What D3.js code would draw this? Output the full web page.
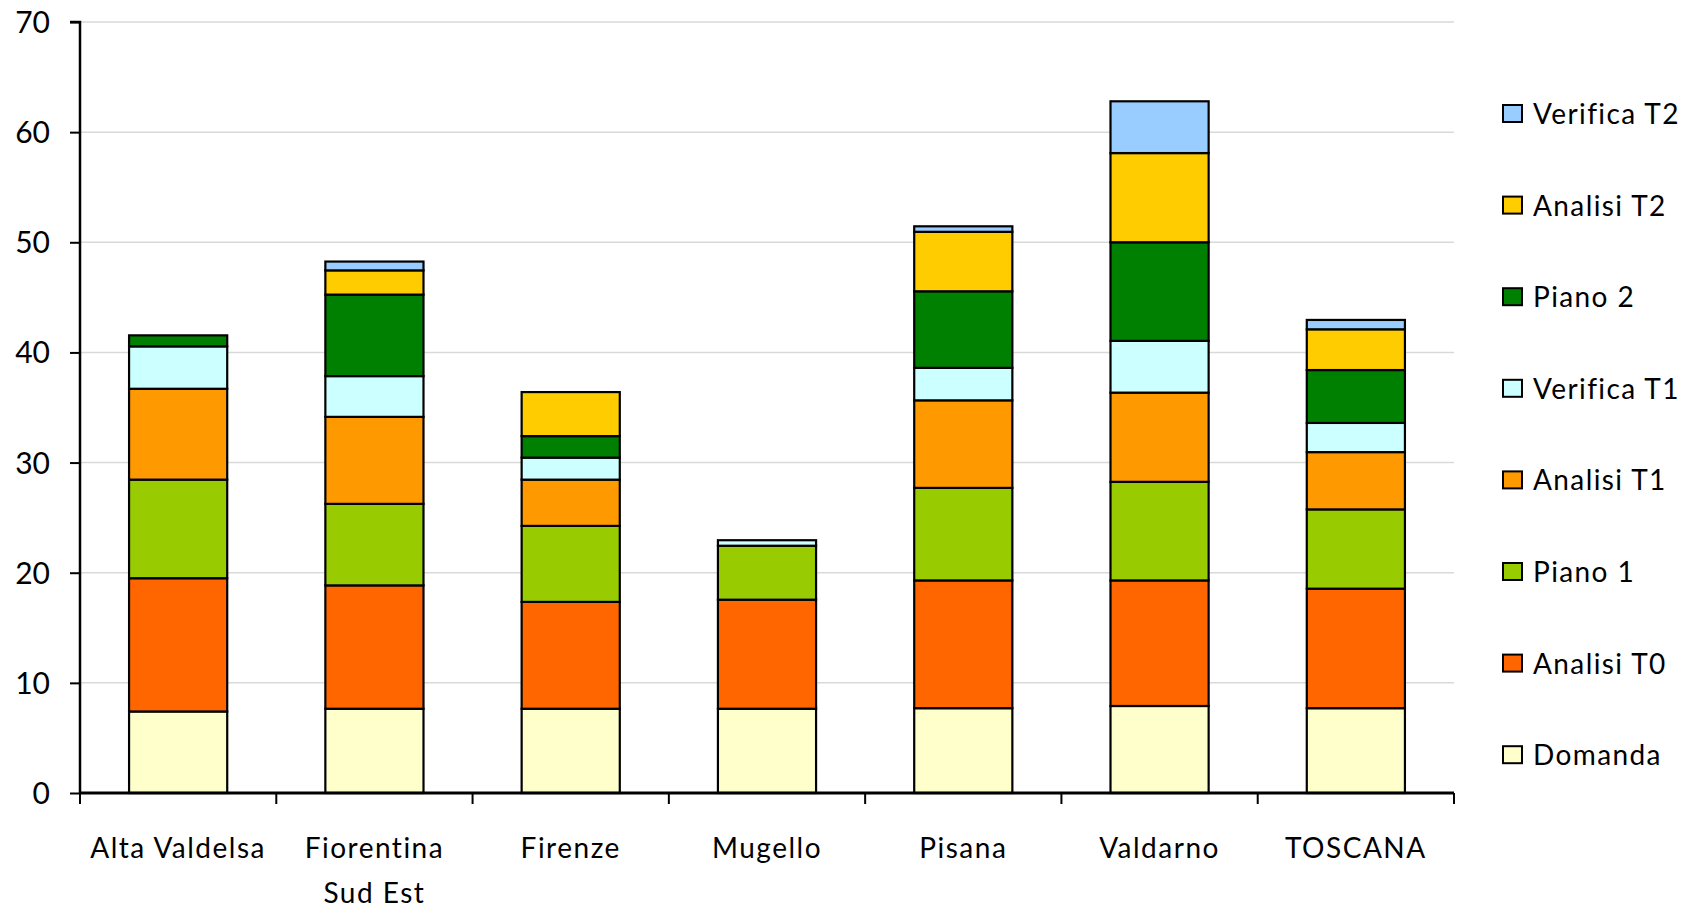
<!DOCTYPE html>
<html><head><meta charset="utf-8">
<script src="https://cdn.jsdelivr.net/npm/d3@7"></script>
<style>body{margin:0;background:#fff}svg{display:block}text{font-family:Lato,"Open Sans",sans-serif;fill:#000}</style>
</head><body><svg id="c" width="1686" height="909"></svg>
<script>
const categories = ["Alta Valdelsa", "Fiorentina\nSud Est", "Firenze", "Mugello", "Pisana", "Valdarno", "TOSCANA"];
const seriesNames = ["Domanda", "Analisi T0", "Piano 1", "Analisi T1", "Verifica T1", "Piano 2", "Analisi T2", "Verifica T2"];
const seriesColors = ["#FFFFCC", "#FF6600", "#99CC00", "#FF9900", "#CCFFFF", "#008000", "#FFCC00", "#99CCFF"];
const domanda    = [7.4, 7.65, 7.65, 7.65, 7.7, 7.9, 7.7];
const analisiT0  = [12.1, 11.2, 9.7, 9.9, 11.6, 11.4, 10.85];
const piano1     = [8.95, 7.4, 6.9, 4.9, 8.4, 8.95, 7.2];
const analisiT1  = [8.25, 7.9, 4.2, 0, 7.95, 8.1, 5.2];
const verificaT1 = [3.85, 3.7, 2.0, 0.5, 2.95, 4.7, 2.65];
const piano2     = [1.0, 7.4, 1.95, 0, 6.95, 8.95, 4.8];
const analisiT2  = [0, 2.2, 4.0, 0, 5.4, 8.1, 3.7];
const verificaT2 = [0, 0.8, 0, 0, 0.5, 4.7, 0.85];
const yTicks = [0, 10, 20, 30, 40, 50, 60, 70];

const seriesValues = [domanda, analisiT0, piano1, analisiT1, verificaT1, piano2, analisiT2, verificaT2];
const rows = categories.map((c, i) => {
  const r = {cat: c};
  seriesNames.forEach((s, j) => r[s] = seriesValues[j][i]);
  return r;
});
const stacked = d3.stack().keys(seriesNames)(rows);

const svg = d3.select("#c");
const L = 80, R = 1454, T = 22, B = 793;
const x = d3.scaleBand().domain(categories).range([L, R]).paddingInner(0.5).paddingOuter(0.25);
const xb = d3.scaleBand().domain(categories).range([L, R]);
const y = d3.scaleLinear().domain([0, 70]).range([B, T]);

// gridlines
svg.append("g").selectAll("line").data(yTicks.filter(t => t > 0)).join("line")
  .attr("x1", L).attr("x2", R).attr("y1", d => y(d)).attr("y2", d => y(d))
  .attr("stroke", "#d9d9d9").attr("stroke-width", 1.5);

// bars
svg.append("g").selectAll("g").data(stacked).join("g")
  .attr("fill", (d, i) => seriesColors[i])
  .selectAll("rect").data(d => d.filter(p => p[1] - p[0] > 0)).join("rect")
  .attr("x", d => x(d.data.cat)).attr("width", x.bandwidth())
  .attr("y", d => y(d[1])).attr("height", d => y(d[0]) - y(d[1]))
  .attr("stroke", "#000").attr("stroke-width", 2.2);

// y axis
const ya = d3.axisLeft(y).tickValues(yTicks).tickSize(10).tickPadding(20).tickFormat(d3.format("d"));
const yg = svg.append("g").attr("transform", `translate(${L},0)`).call(ya);
yg.select(".domain").attr("stroke-width", 2.5).attr("d", `M-10,${T}H0V${B}`);
yg.selectAll(".tick line").attr("stroke-width", 2);
yg.selectAll("text").attr("font-size", 30).attr("font-family", "Lato").attr("dy", "0.35em");

// x axis
const xa = d3.axisBottom(xb).tickSize(0).tickFormat("");
const xg = svg.append("g").attr("transform", `translate(0,${B})`).call(xa);
xg.select(".domain").attr("stroke-width", 3).attr("d", `M${L},0H${R}`);
xg.selectAll(".tick").remove();
const bounds = categories.map(c => xb(c)).concat([R]);
xg.selectAll("line.tk").data(bounds).join("line").attr("class", "tk")
  .attr("x1", d => d).attr("x2", d => d).attr("y1", 0).attr("y2", 11)
  .attr("stroke", "#000").attr("stroke-width", 2);
const lab = svg.append("g").selectAll("text").data(categories).join("text")
  .attr("x", d => x(d) + x.bandwidth() / 2).attr("y", 858)
  .attr("text-anchor", "middle").attr("font-size", 28).attr("letter-spacing", 1.5);
lab.each(function(d) {
  const t = d3.select(this);
  d.split("\n").forEach((s, i) => t.append("tspan").attr("x", x(d) + x.bandwidth() / 2).attr("dy", i ? 45 : 0).text(s));
});

// legend (reverse order)
const legendItems = seriesNames.map((n, i) => ({n, c: seriesColors[i]})).reverse();
const lg = svg.append("g").selectAll("g").data(legendItems).join("g")
  .attr("transform", (d, i) => `translate(1503,${114 + i * 91.6})`);
lg.append("rect").attr("x", 0).attr("y", -9).attr("width", 19).attr("height", 17)
  .attr("fill", d => d.c).attr("stroke", "#000").attr("stroke-width", 2);
lg.append("text").attr("x", 30).attr("y", 0).attr("dy", "0.36em").attr("font-size", 28)
  .attr("letter-spacing", 1.4).text(d => d.n);
</script></body></html>
